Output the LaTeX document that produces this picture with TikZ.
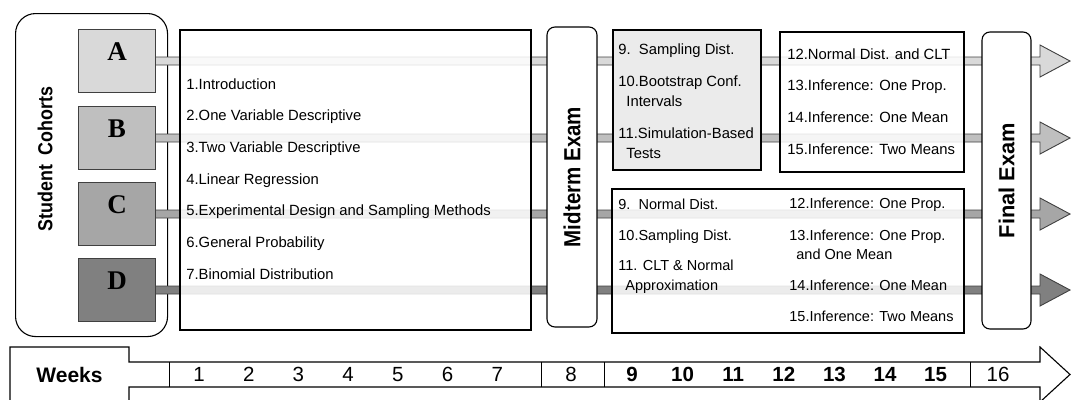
\documentclass[tikz,border=0pt]{standalone}
\usepackage{fontspec}
\setmainfont{Liberation Sans}
\newfontfamily\cohortfont{Liberation Serif}
\newfontfamily\narrowfont[FakeStretch=0.88]{Liberation Sans}
\usetikzlibrary{positioning,calc}
\definecolor{cohA}{gray}{0.85}
\definecolor{cohB}{gray}{0.75}
\definecolor{cohC}{gray}{0.65}
\definecolor{cohD}{gray}{0.5}
\definecolor{boxgray}{gray}{0.92}

\begin{document}
\begin{tikzpicture}[x=1pt, y=-1pt, thick, inner sep=0pt, draw=black, font=\fontsize{14.8}{20}\selectfont]
	\tikzset{rect/.style={draw=black,line width=1.6pt,fill=white,fill opacity=0.85,anchor=north west},
		round/.style={rounded corners=8pt,draw=black,line width=1.1pt,fill=white},
		cohort/.style={draw=black!75,line width=1pt,minimum width=77pt,minimum height=63pt,text height=18pt,text depth=19.4pt,font=\cohortfont\fontsize{27}{27}\selectfont\bfseries},
		bar/.style={draw=black!75,line width=0.9pt},
		topic/.style={align=left,anchor=north west},
		exam/.style={round,rotate=90,font=\narrowfont\fontsize{23.3}{23.3}\selectfont\bfseries},
		week/.style={font=\fontsize{20.5}{20.5}\selectfont}}
	\useasboundingbox (0,0) rectangle (1071,399);
	\clip (0,0) rectangle (1071,399);

	% Cohorts
	\node[round, rounded corners=20pt, anchor=north west, minimum width=152pt, minimum height=323pt] (coh) at (15,13) {};
	\node[rotate=90, font=\narrowfont\fontsize{20.3}{20.3}\selectfont\bfseries] (cohlabel) at (45,159) {Student\ \ Cohorts};
	\node[cohort, fill=cohA, anchor=north west] (cA) at (78,29) {A};
	\node[cohort, fill=cohB] (cB) [below=13pt of cA] {B};
	\node[cohort, fill=cohC] (cC) [below=12pt of cB] {C};
	\node[cohort, fill=cohD] (cD) [below=12pt of cC] {D};

	% Bars to the end of term
	\coordinate (tip) at (1070,0);
	\foreach \n/\col in {cA/cohA,cB/cohB,cC/cohC,cD/cohD}
		\draw[bar, fill=\col] ($(\n.east)+(0,-4)$) -- ($(tip |- \n.east)+(-30,-4)$) -- ($(tip |- \n.east)+(-30,-16)$)
			-- (tip |- \n.east) -- ($(tip |- \n.east)+(-30,16)$) -- ($(tip |- \n.east)+(-30,4)$) -- ($(\n.east)+(0,4)$);

	% Boxes
	\node[rect, minimum width=351pt, minimum height=300pt] (wk1to7) at (179,29) {};
	\node[exam, minimum width=300pt, minimum height=50pt] (mid) at (572,177) {Midterm Exam};
	\node[rect, fill=boxgray, fill opacity=1, minimum width=148pt, minimum height=140pt] (upA) at (612,29) {};
	\node[rect, minimum width=184pt, minimum height=140pt] (upB) at (779,31) {};
	\node[rect, minimum width=352pt, minimum height=144pt] (low) at (611,188) {};
	\node[exam, font=\fontsize{21.8}{21.8}\selectfont\bfseries, minimum width=297pt, minimum height=49pt] (fin) at (1006.5,180.5) {Final Exam};

	% Topics
	\node[topic, font=\fontsize{14.8}{31.7}\selectfont] (t1to7) at (186,78) {1.Introduction\\2.One Variable Descriptive\\3.Two Variable Descriptive\\4.Linear Regression\\5.Experimental Design and Sampling Methods\\6.General Probability\\7.Binomial Distribution};
	\node[topic] (tupA) at (618,43) {9.\ \ Sampling Dist.\\[12pt]10.Bootstrap Conf.\\\hspace*{8pt}Intervals\\[12pt]11.Simulation-Based\\\hspace*{8pt}Tests};
	\node[topic, font=\fontsize{14.8}{31.7}\selectfont] (tupB) at (787,48) {12.Normal Dist. and CLT\\13.Inference: One Prop.\\14.Inference: One Mean\\15.Inference: Two Means};
	\node[topic, font=\fontsize{14.5}{20}\selectfont] (tlowA) at (618,199) {9.\ \ Normal Dist.\\[11pt]10.Sampling Dist.\\[10pt]11. CLT \& Normal\\\hspace*{7pt}Approximation};
	\node[topic, font=\fontsize{14.5}{19}\selectfont] (tlowB) at (789,198) {12.Inference: One Prop.\\[13pt]13.Inference: One Prop.\\\hspace*{7pt}and One Mean\\[12pt]14.Inference: One Mean\\[12pt]15.Inference: Two Means};

	% Timeline
	\draw[line width=1.1pt] (10,410) -- (10,347) -- (129,347) -- (129,362) -- (1040,362) -- (1040,347) -- (1070,374.5)
		-- (1040,402) -- (1040,387) -- (129,387) -- (129,410);
	\foreach \x in {169,541,604,970} \draw[line width=0.8pt] (\x,362) -- (\x,387);
	\node[font=\fontsize{21}{21}\selectfont\bfseries] (weeks) at (69.5,375) {Weeks};
	\foreach \n in {1,...,7} \node[week] (w\n) at ({199+49.7*(\n-1)},374.5) {\n};
	\node[week] (w8) at (571,374.5) {8};
	\foreach \n in {9,...,15} \node[week, font=\fontsize{20.5}{20.5}\selectfont\bfseries] (w\n) at ({632+50.6*(\n-9)},374.5) {\n};
	\node[week] (w16) at (998,374.5) {16};
\end{tikzpicture}
\end{document}
